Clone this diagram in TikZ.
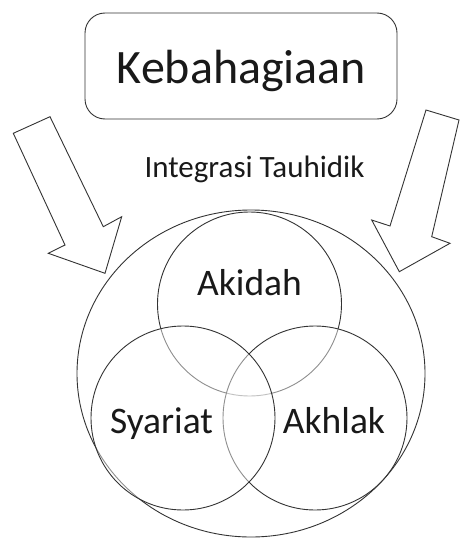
\documentclass[tikz,border=0pt]{standalone}
\usepackage{fontspec}
\setmainfont{Carlito}
\usetikzlibrary{shapes.geometric}
\begin{document}
\begin{tikzpicture}[x=1pt,y=-1pt,
  ln/.style={draw=black!80,line width=0.9pt},
  venn/.style={ln,circle,minimum size=184pt,inner sep=0pt},
  lbl/.style={anchor=base,inner sep=0pt,text=black!90},
  blockarrow/.style={ln,line join=miter,fill=white}]
\useasboundingbox (0,0) rectangle (459,538);
% title box
\node[ln,rounded corners=20pt,minimum width=312pt,minimum height=106pt,inner sep=0pt] (box) at (241,66) {};
\node[lbl,font=\fontsize{48}{52}\selectfont] (keb) at (241.5,83) {Kebahagiaan};
\node[lbl,font=\fontsize{31}{34}\selectfont] (integ) at (254.5,177) {Integrasi Tauhidik};
% outer ellipse
\node[ln,ellipse,minimum width=348pt,minimum height=327pt,inner sep=0pt] (outer) at (251,373.5) {};
% Venn circles
\node[venn] (akidah) at (249.5,304) {};
\node[venn,fill=white,fill opacity=0.45] (akhlak) at (315,418) {};
\node[venn,fill=white,fill opacity=0.45] (syariat) at (183,418) {};
\node[lbl,font=\fontsize{37.5}{42}\selectfont] (takidah) at (249.5,295) {Akidah};
\node[lbl,font=\fontsize{37.5}{42}\selectfont] (tsyariat) at (161.5,433) {Syariat};
\node[lbl,font=\fontsize{37.5}{42}\selectfont] (takhlak) at (334,433) {Akhlak};
% block arrows
\draw[blockarrow] (13.3,133.3) -- (50,116.7) -- (103.3,226.7) -- (121.7,216.7) -- (105,273.3) -- (48.3,253.3) -- (65,245) -- cycle;
\draw[blockarrow] (426,110) -- (459,120) -- (431.7,236.7) -- (450,243.3) -- (399.3,271.7) -- (371.7,220) -- (390,226) -- cycle;
\end{tikzpicture}
\end{document}
